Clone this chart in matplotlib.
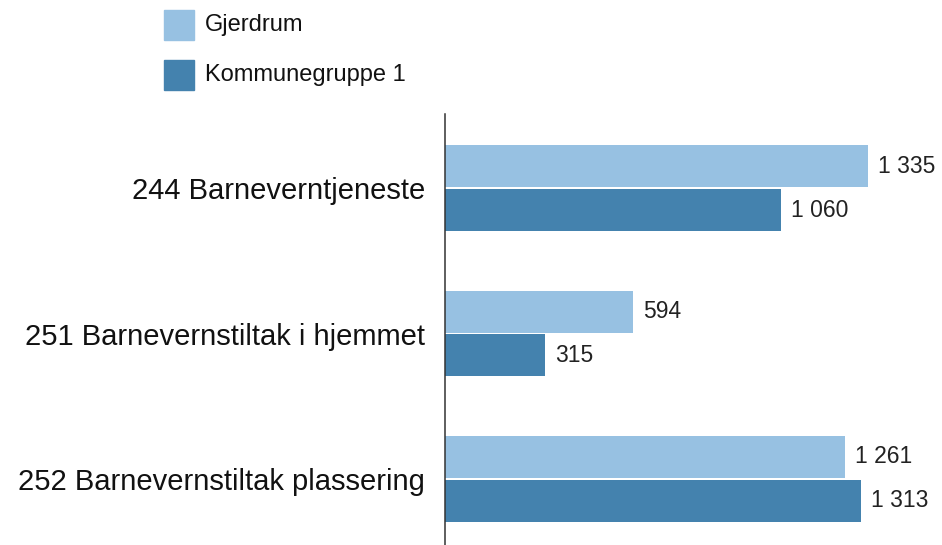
import numpy as np
import matplotlib.pyplot as plt
from matplotlib.patches import Rectangle

plt.rcParams['font.family'] = ['Liberation Sans', 'DejaVu Sans']

categories = ["244 Barneverntjeneste",
              "251 Barnevernstiltak i hjemmet",
              "252 Barnevernstiltak plassering"]
series_names = ["Gjerdrum", "Kommunegruppe 1"]
gjerdrum = [1335, 594, 1261]
kommunegruppe = [1060, 315, 1313]
colors = ["#97c1e2", "#4482ae"]

W, H = 942, 545
fig = plt.figure(figsize=(W / 100, H / 100), dpi=100)
ax = fig.add_axes([445 / W, 0, (W - 445) / W, (H - 114) / H])

y = np.arange(len(categories))
h = 0.289
off = 0.151
for vals, sign, col in [(gjerdrum, -1, colors[0]), (kommunegruppe, 1, colors[1])]:
    bars = ax.barh(y + sign * off, vals, height=h, color=col)
    for b, v in zip(bars, vals):
        ax.text(b.get_width() + 32, b.get_y() + b.get_height() / 2,
                f"{v:,}".replace(",", " "), va='center', ha='left',
                fontsize=16.5, color='#222222')

ax.set_xlim(0, 1568)
ax.set_ylim(2.454, -0.509)
ax.set_yticks(y)
ax.set_yticklabels(categories, fontsize=21, color='#111111')
ax.tick_params(axis='y', length=0, pad=14.4)
ax.set_xticks([])
for s in ['top', 'right', 'bottom']:
    ax.spines[s].set_visible(False)
ax.spines['left'].set_color('#333333')
ax.spines['left'].set_linewidth(1.1)

# legend
for i, (name, col) in enumerate(zip(series_names, colors)):
    top = 10 + i * 50
    fig.add_artist(Rectangle((164 / W, 1 - (top + 30) / H), 30 / W, 30 / H,
                             transform=fig.transFigure, color=col))
    fig.text(205 / W, 1 - (top + 15) / H, name, va='center', ha='left',
             fontsize=17, color='#111111')

fig.savefig("out.png", dpi=100)
